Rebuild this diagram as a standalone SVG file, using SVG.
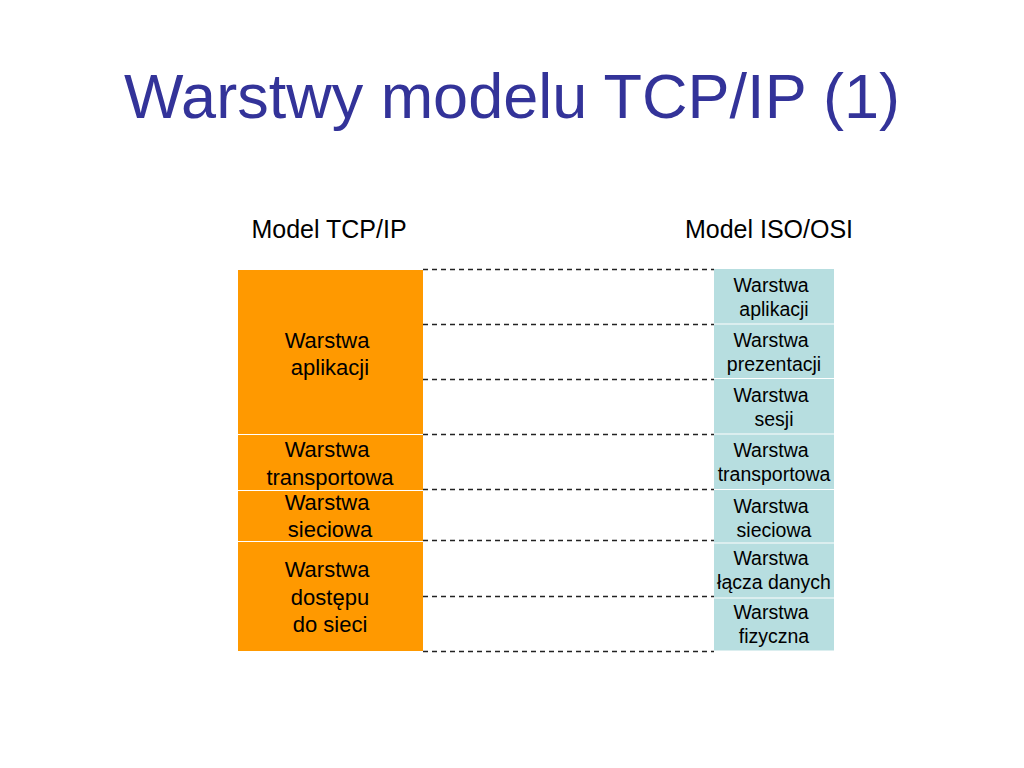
<svg xmlns="http://www.w3.org/2000/svg" width="1024" height="768" viewBox="0 0 1024 768">
<style>
.t{font-family:"Liberation Sans",Arial,sans-serif;fill:#000;text-anchor:middle}
.h{font-size:25px}
.o{font-size:22px}
.b{font-size:19.5px}
.dash{stroke:#222;stroke-width:1.3;stroke-dasharray:5,4;fill:none}
.or{fill:#FF9900}
.bl{fill:#B7DEE0}
</style>
<rect width="1024" height="768" fill="#fff"/>
<text x="512" y="118" font-family="Liberation Sans,Arial,sans-serif" font-size="63" fill="#333399" text-anchor="middle">Warstwy modelu TCP/IP (1)</text>
<text class="t h" x="329" y="238">Model TCP/IP</text>
<text class="t h" x="769" y="238">Model ISO/OSI</text>
<g id="connectors">
<line class="dash" x1="423" y1="269.5" x2="714" y2="269.5"/>
<line class="dash" x1="423" y1="324.5" x2="714" y2="324.5"/>
<line class="dash" x1="423" y1="379.5" x2="714" y2="379.5"/>
<line class="dash" x1="423" y1="434.5" x2="714" y2="434.5"/>
<line class="dash" x1="423" y1="489.5" x2="714" y2="489.5"/>
<line class="dash" x1="423" y1="540.5" x2="714" y2="540.5"/>
<line class="dash" x1="423" y1="596.5" x2="714" y2="596.5"/>
<line class="dash" x1="423" y1="651.5" x2="714" y2="651.5"/>
</g>
<g id="tcp-aplikacji">
<rect class="or" x="238" y="270" width="185" height="164"/>
<text class="t o" x="327" y="348">Warstwa</text>
<text class="t o" x="330" y="375">aplikacji</text>
</g>
<g id="tcp-transportowa">
<rect class="or" x="238" y="435" width="185" height="55"/>
<text class="t o" x="327" y="457">Warstwa</text>
<text class="t o" x="330" y="485">transportowa</text>
</g>
<g id="tcp-sieciowa">
<rect class="or" x="238" y="491" width="185" height="50"/>
<text class="t o" x="327" y="510">Warstwa</text>
<text class="t o" x="330" y="537">sieciowa</text>
</g>
<g id="tcp-dostepu">
<rect class="or" x="238" y="542" width="185" height="109"/>
<text class="t o" x="327" y="577">Warstwa</text>
<text class="t o" x="330" y="605">dostępu</text>
<text class="t o" x="330" y="632">do sieci</text>
</g>
<g id="osi-aplikacji">
<rect class="bl" x="714" y="269" width="120" height="54.5"/>
<text class="t b" x="771" y="292">Warstwa</text>
<text class="t b" x="774" y="316">aplikacji</text>
</g>
<g id="osi-prezentacji">
<rect class="bl" x="714" y="324.5" width="120" height="53.5"/>
<text class="t b" x="771" y="347">Warstwa</text>
<text class="t b" x="774" y="371">prezentacji</text>
</g>
<g id="osi-sesji">
<rect class="bl" x="714" y="379" width="120" height="54.5"/>
<text class="t b" x="771" y="402">Warstwa</text>
<text class="t b" x="774" y="426">sesji</text>
</g>
<g id="osi-transportowa">
<rect class="bl" x="714" y="434.5" width="120" height="54.5"/>
<text class="t b" x="771" y="457">Warstwa</text>
<text class="t b" x="774" y="481">transportowa</text>
</g>
<g id="osi-sieciowa">
<rect class="bl" x="714" y="490" width="120" height="52.5"/>
<text class="t b" x="771" y="513">Warstwa</text>
<text class="t b" x="774" y="537">sieciowa</text>
</g>
<g id="osi-lacza">
<rect class="bl" x="714" y="543.5" width="120" height="54"/>
<text class="t b" x="771" y="565">Warstwa</text>
<text class="t b" x="774" y="589">łącza danych</text>
</g>
<g id="osi-fizyczna">
<rect class="bl" x="714" y="598.5" width="120" height="52"/>
<text class="t b" x="771" y="619">Warstwa</text>
<text class="t b" x="774" y="643">fizyczna</text>
</g>
</svg>
